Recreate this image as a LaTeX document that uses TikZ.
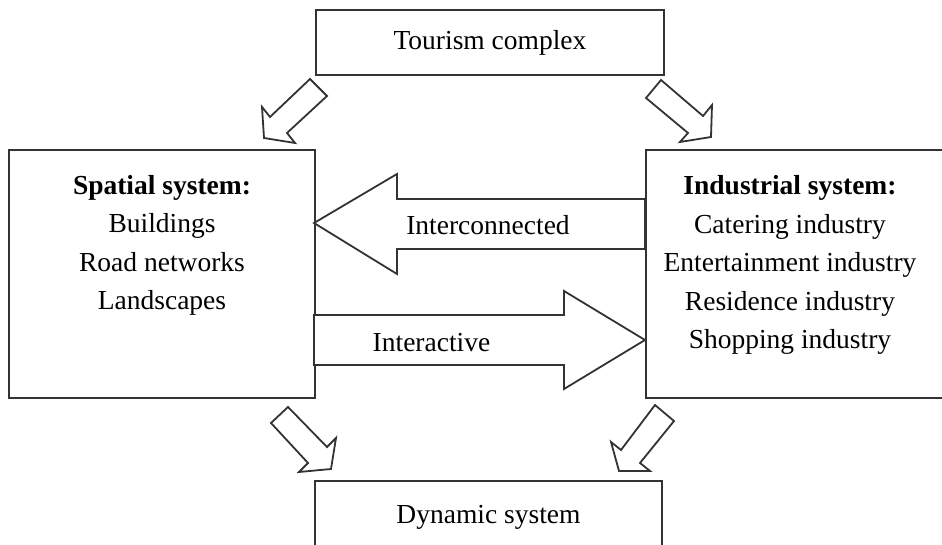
\documentclass[tikz,border=0pt]{standalone}
\usepackage{fontspec}
\setmainfont{Liberation Serif}
\begin{document}
\begin{tikzpicture}[x=0.5pt,y=-0.5pt,
  box/.style={draw=black!80,line width=0.9pt,rectangle,inner sep=0pt},
  blk/.style={draw=black!80,line width=0.9pt,line join=miter,fill=white},
  txt/.style={font=\fontsize{13.75pt}{19.25pt}\selectfont,inner sep=0pt,align=center}]
\useasboundingbox (0,0) rectangle (942,545);
\clip (0,0) rectangle (942,545);
% boxes
\node[box,minimum width=348pt*0.5,minimum height=65pt*0.5] (top) at (490,42.5) {};
\node[box,minimum width=306pt*0.5,minimum height=248pt*0.5] (left) at (162,274) {};
\node[box,minimum width=320pt*0.5,minimum height=248pt*0.5] (right) at (806,274) {};
\node[box,minimum width=347pt*0.5,minimum height=100pt*0.5] (bottom) at (488.5,531) {};
% texts
\node[txt] (toptxt) at (490,43) {Tourism complex};
\node[txt] (lefttxt) at (162,245.5) {\textbf{Spatial system:}\\Buildings\\Road networks\\Landscapes};
\node[txt] (righttxt) at (790,265) {\textbf{Industrial system:}\\Catering industry\\Entertainment industry\\Residence industry\\Shopping industry};
\node[txt] (bottxt) at (488.5,517) {Dynamic system};
% block arrows
\draw[blk] (310,79) -- (327,96) -- (287,133) -- (295,143) -- (264,138) -- (262,107) -- (270,117) -- cycle;
\draw[blk] (661,80) -- (703,116) -- (712,105) -- (711,137) -- (680,142) -- (688,133) -- (646,98) -- cycle;
\draw[blk] (288,407) -- (327,447) -- (336,438) -- (331,469) -- (299,472) -- (308,463) -- (271,423) -- cycle;
\draw[blk] (655,405) -- (674,421) -- (640,463) -- (650,471) -- (619,471) -- (611,442) -- (621,450) -- cycle;
\draw[blk] (645,199) -- (397,199) -- (397,174) -- (314,223) -- (397,274) -- (397,249) -- (645,249) -- cycle;
\draw[blk] (314,315) -- (564,315) -- (564,291) -- (645,340) -- (564,389) -- (564,365) -- (314,365) -- cycle;
\node[txt] (ic) at (488,225) {Interconnected};
\node[txt] (ia) at (431.5,343) {Interactive};
\end{tikzpicture}
\end{document}
